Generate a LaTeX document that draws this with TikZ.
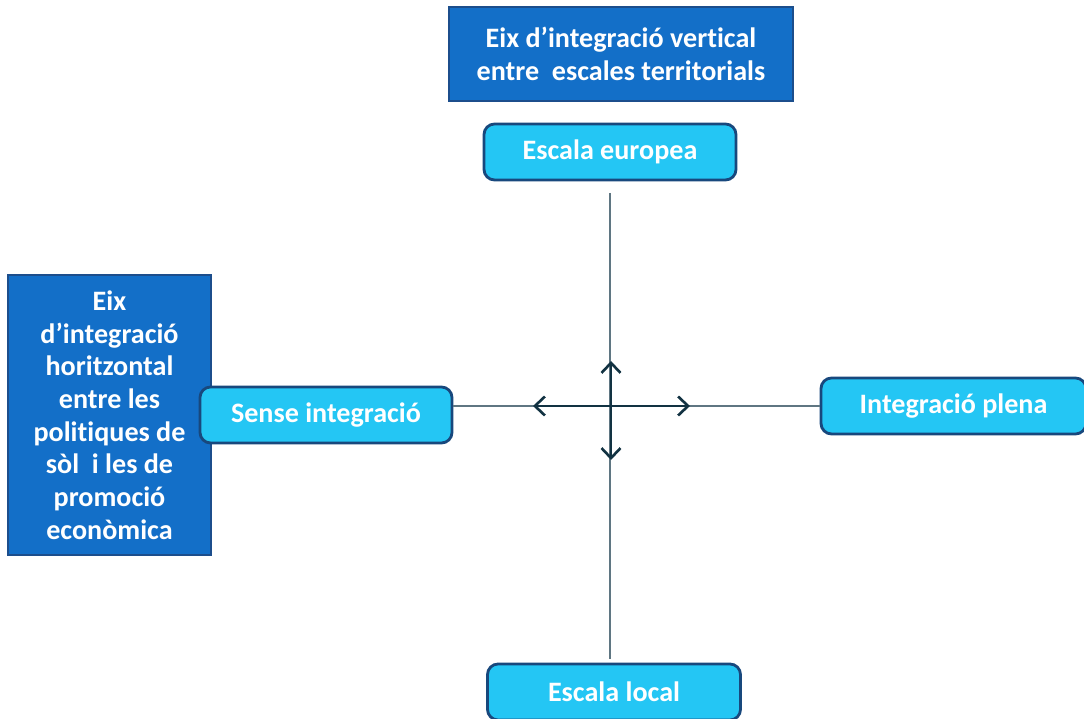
\documentclass[tikz,border=0pt]{standalone}
\usepackage{fontspec}
\setmainfont{Carlito}[RawFeature={-liga}]
\usepackage{xcolor}
\usetikzlibrary{arrows.meta, positioning, calc}
\definecolor{eixblue}{RGB}{19, 111, 200}
\definecolor{eixborder}{RGB}{28, 78, 140}
\definecolor{escalacyan}{RGB}{36, 198, 244}
\definecolor{escalaborder}{RGB}{24, 72, 125}
\definecolor{axisgray}{RGB}{95, 118, 130}
\definecolor{arrowdark}{RGB}{18, 50, 66}

\begin{document}
\begin{tikzpicture}[
        eix/.style={draw=eixborder, line width=1.2pt, fill=eixblue, text=white, font=\fontsize{16}{18.6}\selectfont\bfseries, align=center, inner sep=2pt},
        escala/.style={draw=escalaborder, line width=1.6pt, fill=escalacyan, rounded corners=6pt, text=white, font=\fontsize{16}{18.6}\selectfont\bfseries, minimum width=5.04cm, minimum height=1.12cm, align=center},
        axis/.style={draw=axisgray, line width=0.8pt},
        arrow/.style={{Straight Barb[length=2mm, width=3.8mm]}-{Straight Barb[length=2mm, width=3.8mm]}, line width=1.5pt, draw=arrowdark}
    ]
        \useasboundingbox (0, 0) rectangle (21.68, 14.38);

        % Axis titles
        \node[eix, minimum width=6.88cm, minimum height=1.88cm] (vert) at (12.42, 13.30) {Eix d'integració vertical\\entre \ escales territorials};
        \node[eix, minimum width=4.06cm, minimum height=5.60cm] (horiz) at (2.19, 6.08) {Eix\\d'integració\\horitzontal\\entre les\\politiques de\\sòl \ i les de\\promoció\\econòmica};

        % Scales
        \node[escala] (europa) at (12.20, 11.34) {Escala europea};
        \node[escala, minimum width=5.06cm] (local) at (12.28, 0.54) {Escala local};
        \node[escala] (sense) at (6.52, 6.08) {Sense integració};
        \node[escala, minimum width=5.3cm] (plena) at (19.07, 6.26) {Integració plena};

        % Axes
        \coordinate (centre) at (12.20, 6.26);
        \coordinate (axtop) at (12.20, 10.52);
        \coordinate (axbot) at (12.20, 1.20);
        \draw[axis] (axtop) -- (axbot);
        \draw[axis] (centre -| sense.east) -- (plena.west);

        % Arrows
        \coordinate (arleft) at (10.66, 6.26);
        \coordinate (arright) at (13.80, 6.26);
        \coordinate (arup) at (12.22, 7.16);
        \coordinate (ardown) at (12.22, 5.18);
        \draw[arrow] (arleft) -- (arright);
        \draw[arrow] (arup) -- (ardown);
    \end{tikzpicture}
\end{document}
